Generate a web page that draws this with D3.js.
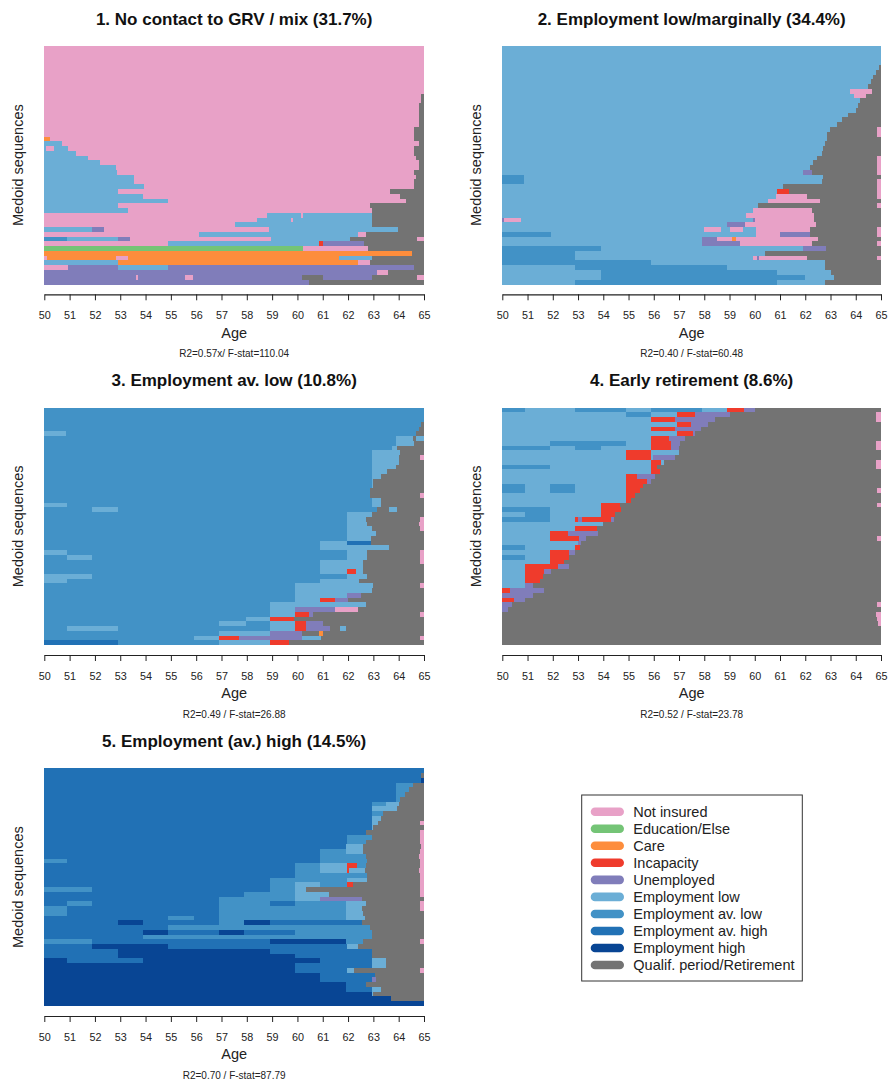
<!DOCTYPE html>
<html><head><meta charset="utf-8">
<script src="https://cdn.jsdelivr.net/npm/d3@7"></script>
<style>
html,body{margin:0;padding:0;background:#fff;}
svg{display:block;font-family:"Liberation Sans",Arial,Helvetica,sans-serif;}
</style></head>
<body>
<script>
// ---------- data ----------
const stateCodes  = ["N","E","C","I","U","L","A","H","X","R"];
const stateLabels = ["Not insured","Education/Else","Care","Incapacity","Unemployed","Employment low","Employment av. low","Employment av. high","Employment high","Qualif. period/Retirement"];
const stateColors = ["#E8A1C7","#74C476","#FD8D3C","#EF3B2C","#807DBA","#6BAED6","#4292C6","#2171B5","#084594","#737373"];
const ageTicks = [50,51,52,53,54,55,56,57,58,59,60,61,62,63,64,65];
const panelTitles = ["1. No contact to GRV / mix (31.7%)","2. Employment low/marginally (34.4%)","3. Employment av. low (10.8%)","4. Early retirement (8.6%)","5. Employment (av.) high (14.5%)"];
const panelStats = ["R2=0.57x/ F-stat=110.04","R2=0.40 / F-stat=60.48","R2=0.49 / F-stat=26.88","R2=0.52 / F-stat=23.78","R2=0.70 / F-stat=87.79"];

// each row: state code + starting age of each spell (spell runs until next start or 65)
const panel1Rows = [
"N50","N50","N50","N50","N50","N50","N50","N50","N50","N50",
"N50 R64.9","N50 R64.9","N50 R64.82","N50 R64.82","N50 R64.82","N50 R64.82","N50 R64.82","N50 R64.62","N50 R64.62",
"C50 N50.23 R64.62",
"L50 N50.68 R64.8",
"L50 N50.07 L50.38 N50.95 R64.62",
"L50 N51.25 R64.62",
"L50 N51.74 R64.7",
"L50 N52.2 R64.8",
"L50 N52.83 R64.8",
"L50 N52.88 R64.62",
"L50 N53.56 R64.7",
"L50 N53.56 R64.6",
"L50 N53.95 R64.6",
"L50 N52.93 R63.66",
"L50 N53.89 R64.06",
"L50 N54.9 R64.3",
"L50 N52.93 R62.87",
"L50 N53.3 R62.96",
"N50 L58.81 N60.14 L60.23 R62.96",
"N50 L58.42 N59.75 L59.81 R62.96",
"N50 L57.53 R62.96",
"L50 U51.9 N52.37 L58.88 R63.96",
"N50 L56.13 N62.41 R62.7",
"A50 L50.88 U52.93 N53.39 L58.96 R62.08 N64.74",
"N50 L54.9 I60.87 U61.02 R62.63",
"E50 N60.23 R62.8",
"C50 R64.54",
"N50 C50.12 N52.83 C53.29 L61.66 R62.93",
"L50 C52.93 N62.38 R62.87",
"N50 U50.95 L52.93 U54.9 R64.61",
"U50 N63.16 R63.57",
"U50 N53.62 U53.71 N55.56 U55.89 R60.17 U61.02 R62.96 N64.74",
"U50 R60.47"
];
const panel2Rows = [
"L50","L50","L50","L50",
"L50 R64.93","L50 R64.82","L50 R64.7","L50 R64.6","L50 R64.5",
"L50 N63.77 R64.65",
"L50 N63.94 R64.39",
"L50 R64.15","L50 R64.1","L50 R64.0","L50 R63.7","L50 R63.45","L50 R63.25",
"L50 R62.97 N64.85","L50 R62.85 N64.85","L50 R62.85","L50 R62.78","L50 R62.72","L50 R62.65",
"L50 R62.45 N64.85","L50 R62.3 N64.85","L50 R62.2 N64.85",
"L50 U61.92 R62.25 N64.85",
"A50 L50.87 R62.7",
"A50 L50.87 R62.65 N64.85",
"L50 R61.1 N64.85",
"L50 I60.9 R61.37 N64.85",
"L50 N60.84 R62.08 N64.85",
"L50 N60.51 R62.58",
"L50 R60.11 N64.85",
"L50 N59.94 R62.25",
"L50 N59.65 R62.34",
"U50 N50.08 L50.75 U59.94 N60.02 R62.34",
"L50 U58.91 N59.61 R62.42",
"L50 N57.99 L58.65 N59.02 L59.55 N60.03 R62.19 N64.85",
"A50 L51.93 N60.03 U61.0 R62.2 N64.85",
"L50 U57.9 N58.52 C59.08 N59.24 R62.49",
"L50 U57.9 N59.41 R62.25 N64.85",
"A50 L53.9 U61.92 R62.82",
"A50 L52.88 R60.4",
"A50 L52.88 N59.94 U60.07 N60.17 R62.08 N64.85",
"A50 L55.9 R62.8",
"L50 A52.88 L58.9 R62.8",
"L50 A53.9 L60.9 R63.0",
"L50 A53.9 L62.0 R63.15",
"L50 A52.88 L60.9 R62.8"
];
const panel3Rows = [
"A50","A50","A50",
"A50 R64.9","A50 R64.8",
"L50 A50.86 R64.7",
"A50 L63.9 R64.55 L64.7",
"A50 L63.9 R64.6",
"A50 L63.75 R63.95",
"A50 L62.95 R64.05",
"A50 L62.95 R64.0 N64.85",
"A50 L62.95 R64.0",
"A50 L62.95 R63.9",
"A50 L62.95 R63.55",
"A50 L62.95 R63.3",
"A50 L62.95 R63.0",
"A50 L62.95 R63.0",
"A50 R62.85",
"A50 R62.85 N64.85",
"A50 L62.95 R63.3",
"L50 A50.88 L62.95 R63.3",
"A50 L51.9 A52.9 R63.15 L63.6 R63.95",
"A50 L61.95 R62.95",
"A50 L61.95 R62.7 N64.85",
"A50 L61.95 R62.75 N64.8",
"A50 L61.95 R62.95 N64.85",
"A50 L61.95 R63.1",
"A50 L61.95 R62.9",
"A50 L60.9 H61.95 R62.9",
"A50 L60.9 R63.6",
"L50 A50.88 L61.95 R62.75 N64.85",
"A50 L50.9 A51.9 L61.95 R62.75 N64.85",
"A50 L60.9 R62.6 N64.85",
"A50 L60.9 R62.6",
"A50 L60.9 I61.95 L62.3 R62.6",
"L50 A51.9 L61.95 R62.75",
"L50 A50.88 L60.9 R62.45",
"A50 L59.9 R63.0 N64.85",
"A50 L59.9 R62.95",
"A50 L59.9 U61.95 R62.5",
"A50 L59.9 I60.9 U61.5 R62.0",
"A50 L58.9 R62.7",
"A50 L58.9 U59.9 N61.5 R62.4",
"A50 L58.9 I59.9 U60.45 R60.6 N64.85",
"A50 L57.95 I58.9 R59.85",
"A50 L56.9 A57.95 L58.9 I59.9 U60.35 R61.0",
"A50 L50.9 A52.9 L58.9 I59.9 U60.35 R61.3 L61.7 R61.9",
"A50 L56.9 U58.9 R60.2 C60.85 R61.0",
"A50 L55.9 I56.9 U57.7 L60.2 R60.95 N64.85",
"H50 A52.9 L56.9 I58.9 R59.65"
];
const panel4Rows = [
"A50 L50.89 A52.89 L54.91 A55.9 L57.91 I58.91 U59.56 R60.0",
"L50 A54.91 L55.9 I56.93 U57.65 R59.0 N64.8",
"L50 I55.9 U56.83 R58.41 N64.8",
"L50 I56.93 U57.46 R58.15",
"L50 I55.9 U56.83 R57.89",
"L50 I56.93 U57.55 R57.62",
"L50 I55.9 U56.59 R57.22",
"L50 A51.88 L54.91 I55.9 U56.67 R57.02 N64.8",
"A50 L51.88 A52.89 L53.9 I55.9 U56.67 R57.0 N64.8",
"L50 I54.91 L55.9 R56.99",
"L50 I54.91 L55.9 U55.97 R56.83",
"L50 I55.9 L56.3 R56.39 N64.8",
"A50 L51.88 I55.9 R56.11 N64.8",
"L50 I55.9 R56.23",
"L50 I54.91 U55.35 R56.03",
"L50 I54.91 U55.74 R55.9",
"A50 L50.89 A51.88 L52.89 I54.91 R55.57",
"A50 L50.89 A51.88 L52.89 I54.91 R55.44 N64.85",
"L50 I54.91 R55.27",
"L50 I54.91 R55.08",
"L50 I53.9 R54.65 N64.85",
"A50 L51.88 I53.9 R54.71",
"L50 A50.89 L51.88 I53.9 R54.48",
"A50 L51.88 I52.89 U52.99 I53.16 U54.32 R54.41",
"L50 R53.99",
"L50 I52.89 R53.76",
"L50 I51.88 U52.6 R53.79",
"L50 I51.88 U53.02 R53.33 N64.85",
"L50 U52.99 R53.13",
"A50 L50.89 I52.89 R53.06",
"L50 I51.88 U52.63 R52.87",
"A50 L50.89 I51.88 R52.65",
"L50 I51.88 R52.45",
"L50 I50.89 U52.21 R52.63",
"L50 I50.89 U51.65 R51.94",
"L50 I50.89 R51.6",
"L50 I50.89 R51.48",
"L50 U50.89 R51.2",
"I50 U50.29 R51.65",
"U50 R51.22",
"I50 U50.46 R50.89",
"U50 R50.38 N64.85",
"U50 R50.23",
"R50 N64.8","R50 N64.85","R50 N64.9",
"R50","R50","R50","R50"
];
const panel5Rows = [
"H50",
"H50 R64.9",
"H50 X64.9",
"H50 A63.9 R64.55",
"H50 A63.9 R64.4",
"H50 A63.9 R64.25",
"H50 A63.9 R64.05",
"H50 A62.95 L63.5 R64.0",
"H50 L62.95 R63.95",
"H50 A62.95 R63.4",
"H50 L62.95 R63.3",
"H50 L62.95 R63.2 N64.85",
"H50 L62.95 R63.0",
"H50 R62.7 N64.85",
"H50 A61.95 R62.95 N64.85",
"H50 A61.95 R62.7 N64.85",
"H50 L61.9 R62.6 N64.9",
"H50 A60.9 L61.9 R62.6 N64.85",
"H50 A60.9 R62.7 N64.8",
"A50 H50.9 A60.9 R62.75 N64.85",
"H50 A59.9 L60.9 I61.95 A62.35 R62.7 N64.85",
"H50 A59.9 L60.9 I61.95 L62.05 R62.65 N64.8",
"H50 A59.9 R62.75 N64.85",
"H50 A58.9 L61.95 R62.75 N64.85",
"H50 A58.9 L59.9 A60.9 I61.95 R62.2 N64.85",
"A50 H51.9 A58.9 L59.9 R60.35 N64.85",
"H50 A57.9 L59.9 R61.25 N64.85",
"H50 A56.9 L59.9 U60.9 R62.55",
"H50 A50.9 H51.9 A56.9 H58.9 A59.9 L61.9 R62.7 N64.85",
"A50 H50.9 A56.9 L61.9 R62.55 N64.85",
"A50 H50.9 A56.9 L61.9 R62.6",
"H50 A54.9 H55.9 A56.9 L61.9 R62.65",
"H50 X52.9 H53.9 A56.9 X57.9 H58.9 R62.55",
"H50 A54.9 R62.85",
"H50 X53.9 H54.9 X56.9 H57.9 A59.9 R62.95",
"H50 A53.9 R62.95",
"A50 H51.9 X58.9 A61.9 R62.6 N64.85",
"H50 X51.9 H54.9 L61.95 R62.4",
"H50 X52.9 H58.9 R62.95",
"H50 X52.9 H59.9 R62.95",
"X50 H50.9 X53.9 H60.9 L62.95 R63.5",
"X50 H59.9 L62.95 R63.5",
"X50 H59.9 L61.95 R62.25 N64.85",
"X50 H60.9 R63.05",
"X50 H60.9 U62.95 R63.1",
"X50 H61.9 R62.7",
"X50 H61.9 L62.95 R63.3",
"X50 L62.95 R63.0",
"X50 R63.7",
"X50"
];
const panelRows = [panel1Rows, panel2Rows, panel3Rows, panel4Rows, panel5Rows];

// ---------- layout ----------
const W = 890, H = 1086;
const layout = [
  {x0: 44.3,  x1: 424, y0: 46,    y1: 284.3},
  {x0: 502.3, x1: 881, y0: 46,    y1: 284.3},
  {x0: 44.3,  x1: 424, y0: 407.7, y1: 645},
  {x0: 502.3, x1: 881, y0: 407.7, y1: 645},
  {x0: 44.3,  x1: 424, y0: 768.3, y1: 1006}
];
const colorOf = d3.scaleOrdinal().domain(stateCodes).range(stateColors);

function parseRow(str) {
  const toks = str.trim().split(/\s+/).map(t => ({s: t[0], a: +t.slice(1)}));
  return toks.map((t, i) => ({state: t.s, start: t.a, end: i + 1 < toks.length ? toks[i + 1].a : 65}));
}

const svg = d3.select("body").append("svg").attr("width", W).attr("height", H);
svg.append("rect").attr("width", W).attr("height", H).attr("fill", "#fff");

layout.forEach((L, p) => {
  const rows = panelRows[p];
  const x = d3.scaleLinear().domain([50, 65]).range([L.x0, L.x1]);
  const y = d3.scaleBand().domain(d3.range(rows.length)).range([L.y0, L.y1]).padding(0);
  const g = svg.append("g");

  const spells = [];
  rows.forEach((r, i) => parseRow(r).forEach(s => spells.push({...s, row: i})));
  g.append("g").attr("shape-rendering", "crispEdges")
    .selectAll("rect").data(spells).join("rect")
    .attr("x", d => x(d.start))
    .attr("y", d => y(d.row))
    .attr("width", d => Math.max(0, x(d.end) - x(d.start)))
    .attr("height", y.bandwidth() + 0.3)
    .attr("fill", d => colorOf(d.state));

  // x axis
  const axisY = L.y1 + 10;
  const ax = g.append("g").attr("transform", `translate(0,${axisY})`)
    .call(d3.axisBottom(x).tickValues(ageTicks).tickFormat(d3.format("d")).tickSize(6).tickSizeOuter(0).tickPadding(11));
  ax.select(".domain").attr("stroke", "#222").attr("stroke-width", 1.2);
  ax.selectAll(".tick line").attr("stroke", "#222").attr("stroke-width", 1);
  ax.selectAll(".tick text").attr("font-size", "10.8px").attr("fill", "#222")
    .attr("font-family", "'Liberation Sans',Arial,sans-serif");

  const cx = (L.x0 + L.x1) / 2;
  g.append("text").attr("x", cx).attr("y", L.y1 + 53.3).attr("text-anchor", "middle")
    .attr("font-size", "14.5px").attr("fill", "#222").text("Age");
  g.append("text").attr("x", cx).attr("y", L.y1 + 72.5).attr("text-anchor", "middle")
    .attr("font-size", "10px").attr("fill", "#222").text(panelStats[p]);
  g.append("text").attr("x", cx).attr("y", L.y0 - 21.5).attr("text-anchor", "middle")
    .attr("font-size", "17px").attr("font-weight", "bold").attr("fill", "#111").text(panelTitles[p]);
  const cy = (L.y0 + L.y1) / 2;
  g.append("text").attr("transform", `translate(${L.x0 - 21.3},${cy}) rotate(-90)`)
    .attr("text-anchor", "middle").attr("font-size", "14.5px").attr("fill", "#222").text("Medoid sequences");
});

// legend
const leg = svg.append("g");
leg.append("rect").attr("x", 581.7).attr("y", 795).attr("width", 220.6).attr("height", 186)
  .attr("fill", "#fff").attr("stroke", "#333").attr("stroke-width", 1);
const ly = d3.scaleLinear().domain([0, 1]).range([811.7, 811.7 + 17.04]);
stateLabels.forEach((lab, i) => {
  leg.append("rect").attr("x", 590.7).attr("y", ly(i) - 4.3).attr("width", 33.3).attr("height", 8.6)
    .attr("rx", 4.3).attr("fill", stateColors[i]);
  leg.append("text").attr("x", 633.3).attr("y", ly(i) + 5.3).attr("font-size", "14.5px").attr("fill", "#222").text(lab);
});
</script>
</body></html>
